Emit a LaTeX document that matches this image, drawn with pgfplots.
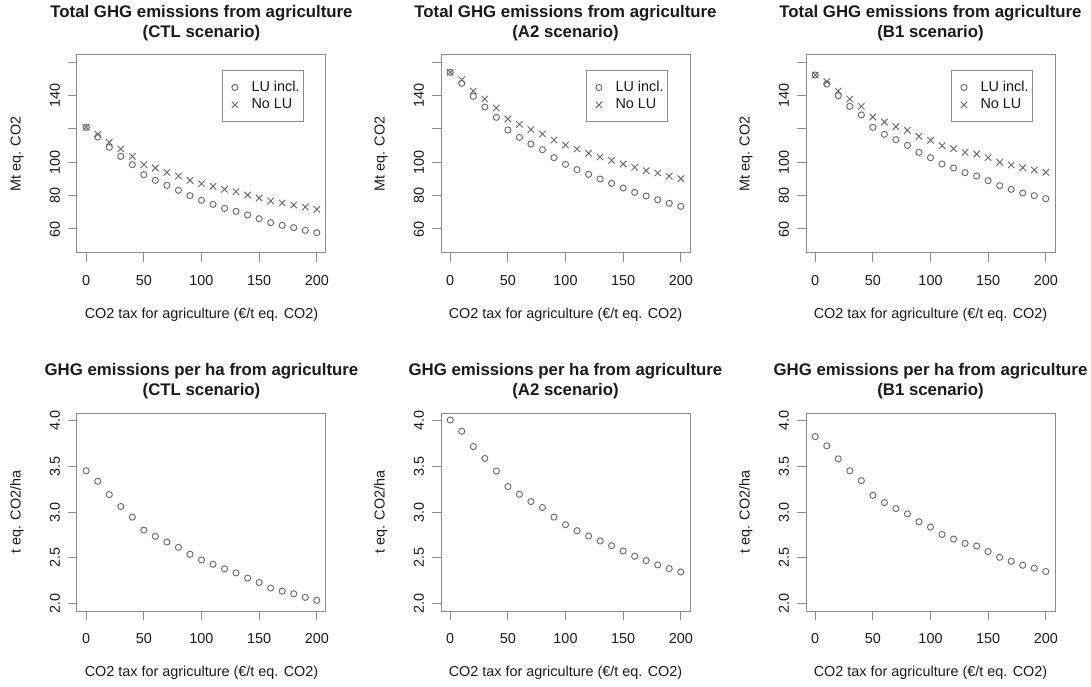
\documentclass[border=0pt]{standalone}
\usepackage{fontspec}
\setmainfont{Liberation Sans}
\usepackage{pgfplots}
\pgfplotsset{compat=1.18}
\definecolor{ptgray}{HTML}{6A6A6A}
\definecolor{boxgray}{HTML}{8C8C8C}
\definecolor{txt}{HTML}{1A1A1A}

\pgfplotsset{
  rpanel/.style={
    scale only axis, width=186.75pt, height=148.5pt,
    anchor=south west,
    xmin=-8, xmax=208, xtick={0,50,...,200},
    axis line style={boxgray, line width=0.75pt},
    tick style={boxgray, line width=0.75pt},
    tick align=outside, major tick length=6.5pt,
    xtick pos=bottom, ytick pos=left,
    /pgf/number format/assume math mode=true,
    tick label style={font=\fontsize{10.8}{13}\selectfont, text=txt},
    xticklabel style={anchor=center, yshift=-14.25pt},
    yticklabel style={xshift=-10pt, rotate=90, anchor=center},
    xlabel={CO2 tax for agriculture (€/t eq. CO2)},
    label style={font=\fontsize{10.8}{13}\selectfont, text=txt},
    xlabel style={at={(axis description cs:0.5,-0.312)}, anchor=center},
    ylabel style={at={(axis description cs:-0.241,0.5)}, anchor=center},
    title style={at={(axis description cs:0.5,1.118)}, anchor=center, align=center,
      font=\bfseries\fontsize{12.6}{15}\selectfont, text=txt},
    every axis plot/.append style={only marks, ptgray, line width=0.7pt},
    legend style={at={(0.912,0.924)}, anchor=north east, draw=boxgray, line width=0.75pt,
      font=\fontsize{10.8}{13}\selectfont, text=txt, inner xsep=1pt, inner ysep=6pt,
      row sep=0pt},
    legend cell align=left,
    legend image code/.code={\path[draw=none, fill=none] (0pt,-0.1pt) rectangle (19pt,0.1pt);
      \draw[#1] plot coordinates {(8.5pt,0pt)};},
  },
  totpanel/.style={rpanel, ymin=45.6, ymax=164.4,
    ytick={60,80,100,120,140,160}, yticklabels={60,80,100,,140,},
    ylabel={Mt eq. CO2}},
  hapanel/.style={rpanel, ymin=1.92, ymax=4.08,
    ytick={2,2.5,3,3.5,4}, yticklabels={2.0,2.5,3.0,3.5,4.0},
    ylabel={t eq. CO2/ha}},
  circ/.style={mark=o, mark size=2.3pt},
  crs/.style={mark=x, mark size=3.4pt},
}

\begin{document}
\begin{tikzpicture}
\path[use as bounding box] (0,0) rectangle (818.25pt,514.5pt);

% top row: total emissions
\begin{axis}[totpanel, at={(57.75pt,324.75pt)},
  title={Total GHG emissions from agriculture\\(CTL scenario)}]
\addplot[circ] coordinates {(0,121) (10,115.2) (20,109) (30,103.6) (40,98.6) (50,92.6) (60,89.2) (70,86.2) (80,83.2) (90,80) (100,77.2) (110,74.8) (120,72.4) (130,70.6) (140,68.4) (150,66.2) (160,63.8) (170,62.2) (180,60.8) (190,59.2) (200,57.8)};
\addplot[crs] coordinates {(0,121) (10,116.8) (20,112) (30,108) (40,103.6) (50,98.6) (60,96.6) (70,94) (80,91.8) (90,89.2) (100,87.2) (110,85.6) (120,83.8) (130,82.4) (140,80.4) (150,78.6) (160,76.8) (170,75.6) (180,74.4) (190,73.2) (200,71.8)};
\legend{LU incl., No LU}
\end{axis}

\begin{axis}[totpanel, at={(330.75pt,324.75pt)},
  title={Total GHG emissions from agriculture\\(A2 scenario)}]
\addplot[circ] coordinates {(0,154) (10,147.4) (20,139.6) (30,133.2) (40,127) (50,119.4) (60,115) (70,111) (80,107.6) (90,102.8) (100,98.8) (110,95.6) (120,92.8) (130,90) (140,87.4) (150,84.6) (160,82) (170,79.8) (180,77.6) (190,75.4) (200,73.6)};
\addplot[crs] coordinates {(0,154) (10,149.6) (20,142.8) (30,138) (40,132.6) (50,126) (60,122.8) (70,119.6) (80,117) (90,113.4) (100,110.4) (110,108) (120,105.4) (130,103.2) (140,101.2) (150,99) (160,97) (170,95) (180,93.6) (190,91.6) (200,90.2)};
\legend{LU incl., No LU}
\end{axis}

\begin{axis}[totpanel, at={(604.5pt,324.75pt)},
  title={Total GHG emissions from agriculture\\(B1 scenario)}]
\addplot[circ] coordinates {(0,152.4) (10,147) (20,140) (30,133.6) (40,128.4) (50,121) (60,116.8) (70,113.6) (80,110.2) (90,106) (100,102.8) (110,99) (120,96.6) (130,93.8) (140,91.8) (150,89) (160,86) (170,83.8) (180,81.6) (190,80) (200,78.2)};
\addplot[crs] coordinates {(0,152.4) (10,148.4) (20,142.8) (30,138) (40,133.6) (50,127.2) (60,124.2) (70,121.4) (80,119.2) (90,115.6) (100,113.2) (110,110) (120,108.2) (130,106) (140,105) (150,102.8) (160,100) (170,98.4) (180,96.8) (190,95.4) (200,94)};
\legend{LU incl., No LU}
\end{axis}

% bottom row: emissions per ha
\begin{axis}[hapanel, at={(57.75pt,56.25pt)},
  title={GHG emissions per ha from agriculture\\(CTL scenario)}]
\addplot[circ] coordinates {(0,3.450) (10,3.335) (20,3.190) (30,3.060) (40,2.944) (50,2.803) (60,2.734) (70,2.673) (80,2.615) (90,2.539) (100,2.477) (110,2.430) (120,2.380) (130,2.336) (140,2.279) (150,2.231) (160,2.170) (170,2.137) (180,2.108) (190,2.069) (200,2.036)};
\end{axis}

\begin{axis}[hapanel, at={(330.75pt,56.25pt)},
  title={GHG emissions per ha from agriculture\\(A2 scenario)}]
\addplot[circ] coordinates {(0,4.004) (10,3.881) (20,3.714) (30,3.584) (40,3.447) (50,3.277) (60,3.193) (70,3.114) (80,3.049) (90,2.944) (100,2.861) (110,2.796) (120,2.738) (130,2.684) (140,2.633) (150,2.575) (160,2.517) (170,2.470) (180,2.423) (190,2.383) (200,2.347)};
\end{axis}

\begin{axis}[hapanel, at={(604.5pt,56.25pt)},
  title={GHG emissions per ha from agriculture\\(B1 scenario)}]
\addplot[circ] coordinates {(0,3.823) (10,3.722) (20,3.580) (30,3.450) (40,3.342) (50,3.183) (60,3.103) (70,3.038) (80,2.980) (90,2.893) (100,2.835) (110,2.756) (120,2.705) (130,2.658) (140,2.629) (150,2.568) (160,2.506) (170,2.463) (180,2.419) (190,2.387) (200,2.351)};
\end{axis}
\end{tikzpicture}
\end{document}
